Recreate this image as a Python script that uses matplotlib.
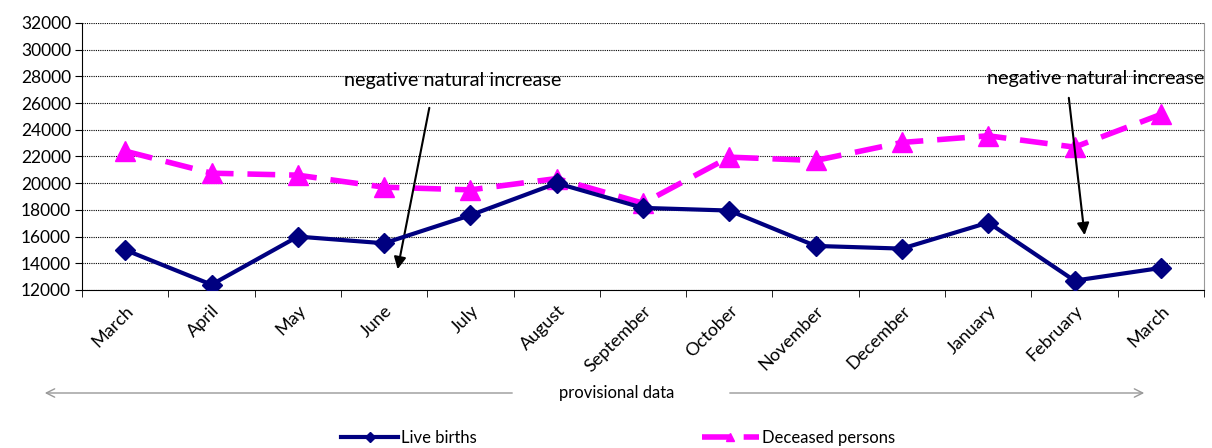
import numpy as np
import matplotlib
matplotlib.use('Agg')
import matplotlib.pyplot as plt
from matplotlib.lines import Line2D

months = ["March", "April", "May", "June", "July", "August", "September",
          "October", "November", "December", "January", "February", "March"]
live_births = [15000, 12400, 16000, 15500, 17600, 20000, 18150,
               17950, 15300, 15100, 17050, 12700, 13650]
deceased = [22400, 20750, 20600, 19700, 19500, 20350, 18500,
            21950, 21700, 23050, 23550, 22700, 25150]
y_ticks = list(range(12000, 32001, 2000))

plt.rcParams['font.family'] = ['Lato', 'DejaVu Sans']

fig = plt.figure(figsize=(12.12, 4.48), dpi=100)
ax = fig.add_axes([0.0677, 0.3527, 0.9257, 0.596])

x = np.arange(len(months))
ax.plot(x, live_births, color="#000080", linewidth=3, marker="D", markersize=10,
        zorder=4, label="Live births")
ax.plot(x, deceased, color="#FF00FF", linewidth=4, linestyle=(0, (5, 2.5)),
        marker="^", markersize=15, zorder=3, label="Deceased persons")

ax.set_xlim(-0.5, len(months) - 0.5)
ax.set_ylim(12000, 32000)
ax.set_yticks(y_ticks)
ax.set_yticklabels([str(v) for v in y_ticks], fontsize=12.5)
ax.yaxis.grid(True, color="black", linestyle=(0, (1, 1)), linewidth=0.8)
ax.set_axisbelow(True)

ax.set_xticks(x)
ax.set_xticklabels(months, rotation=45, ha="right", rotation_mode="anchor", fontsize=13)
ax.set_xticks(np.arange(-0.5, len(months)), minor=True)
ax.tick_params(axis="x", which="major", length=0, pad=9)
ax.tick_params(axis="x", which="minor", length=5, direction="out", color="black")
ax.tick_params(axis="y", length=5, direction="out", pad=3)

ax.spines["top"].set_visible(False)
ax.spines["right"].set_color("#999999")
ax.spines["left"].set_color("black")
ax.spines["bottom"].set_color("black")

# annotations
ax.annotate("", xy=(3.15, 13350), xytext=(3.53, 25850),
            arrowprops=dict(arrowstyle="-|>", color="black", lw=1.5, mutation_scale=18))
ax.text(3.8, 27700, "negative natural increase", ha="center", va="center", fontsize=14.3)
ax.annotate("", xy=(11.12, 15900), xytext=(10.93, 26600),
            arrowprops=dict(arrowstyle="-|>", color="black", lw=1.5, mutation_scale=18))
ax.text(11.25, 27850, "negative natural increase", ha="center", va="center", fontsize=14.3)

# provisional data span
fig.patches.append(matplotlib.patches.FancyArrowPatch(
    (515 / 1212, 1 - 393 / 448), (42 / 1212, 1 - 393 / 448), transform=fig.transFigure,
    arrowstyle="->", color="#999999", lw=1, mutation_scale=15))
fig.patches.append(matplotlib.patches.FancyArrowPatch(
    (727 / 1212, 1 - 393 / 448), (1147 / 1212, 1 - 393 / 448), transform=fig.transFigure,
    arrowstyle="->", color="#999999", lw=1, mutation_scale=15))
fig.text(617 / 1212, 1 - 393 / 448, "provisional data", ha="center", va="center", fontsize=12)

handles = [Line2D([], [], color="#000080", linewidth=3, marker="D", markersize=5),
           Line2D([], [], color="#FF00FF", linewidth=4, linestyle=(0, (5, 2.5)),
                  marker="^", markersize=6)]
fig.legend(handles, ["Live births", "Deceased persons"], loc="center",
           bbox_to_anchor=(0.51, 1 - 438 / 448), ncol=2, frameon=False,
           fontsize=12, columnspacing=13.5, handlelength=3.4, handletextpad=0.2)

fig.savefig("out.png", dpi=100)
